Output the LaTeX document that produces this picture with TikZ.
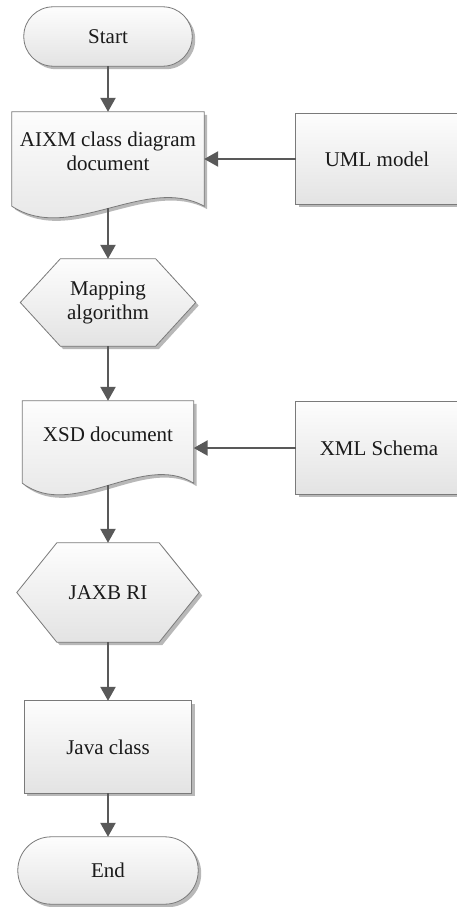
\documentclass[tikz,border=0pt]{standalone}
\usepackage{fontspec}
\setmainfont{Liberation Serif}
\usetikzlibrary{arrows.meta,shadows,backgrounds,calc}

\definecolor{edgegray}{HTML}{7A7A7A}
\definecolor{arrowgray}{HTML}{595959}
\definecolor{fillTop}{HTML}{FDFDFD}
\definecolor{fillBottom}{HTML}{E3E3E3}
\definecolor{inkcol}{HTML}{1A1A1A}

\begin{document}
\begin{tikzpicture}[x=1bp,y=-1bp,
  frame/.style={draw=none, inner sep=0pt, align=center, text=inkcol,
    font=\fontsize{21bp}{24bp}\selectfont},
  shapestyle/.style={draw=edgegray, line width=0.8bp,
    top color=fillTop, bottom color=fillBottom,
    drop shadow={shadow xshift=3bp, shadow yshift=-3bp, opacity=0.28, fill=black}},
  flow/.style={draw=arrowgray, line width=2.4bp,
    -{Triangle[width=15bp,length=14bp]}}
]
\useasboundingbox (0,0) rectangle (457,907);

% text frames of the flow steps
\node[frame, minimum width=168bp, minimum height=59bp] (start) at (108,36.5) {Start};
\node[frame, minimum width=192bp, minimum height=78bp] (aixm) at (108,151) {AIXM class diagram\\document};
\node[frame, minimum width=162bp, minimum height=90bp] (uml) at (377,159) {UML model};
\node[frame, minimum width=175bp, minimum height=87bp] (map) at (108,302.5) {Mapping\\algorithm};
\node[frame, minimum width=171bp, minimum height=66bp] (xsd) at (108,434) {XSD document};
\node[frame, minimum width=166bp, minimum height=92bp] (xml) at (379,448) {XML Schema};
\node[frame, minimum width=182bp, minimum height=99bp] (jaxb) at (108,592.5) {JAXB RI};
\node[frame, minimum width=167bp, minimum height=92bp] (java) at (108,747) {Java class};
\node[frame, minimum width=180bp, minimum height=67bp] (end) at (108,870.5) {End};

% outlines, behind the text
\begin{scope}[on background layer]
  \fill[white] (0,0) rectangle (457,907);
  % terminators
  \path[shapestyle, rounded corners=29.4bp] (start.north west) rectangle (start.south east);
  \path[shapestyle, rounded corners=33.4bp] (end.north west) rectangle (end.south east);
  % documents with wavy bottom
  \path[shapestyle] (aixm.north west) -- (aixm.north east) -- ($(aixm.south east)+(0,16)$)
    .. controls +(-58,-32) and +(58,38) .. ($(aixm.south west)+(0,16)$) -- cycle;
  \path[shapestyle] (xsd.north west) -- (xsd.north east) -- ($(xsd.south east)+(0,16)$)
    .. controls +(-51,-32) and +(51,38) .. ($(xsd.south west)+(0,16)$) -- cycle;
  % processes
  \path[shapestyle] (uml.north west) rectangle (uml.south east);
  \path[shapestyle] (xml.north west) rectangle (xml.south east);
  \path[shapestyle] (java.north west) rectangle (java.south east);
  % preparation hexagons
  \path[shapestyle] (map.west) -- ($(map.north west)+(40,0)$) -- ($(map.north east)+(-40,0)$)
    -- (map.east) -- ($(map.south east)+(-40,0)$) -- ($(map.south west)+(40,0)$) -- cycle;
  \path[shapestyle] (jaxb.west) -- ($(jaxb.north west)+(40,0)$) -- ($(jaxb.north east)+(-40,0)$)
    -- (jaxb.east) -- ($(jaxb.south east)+(-40,0)$) -- ($(jaxb.south west)+(40,0)$) -- cycle;
\end{scope}

% connectors
\draw[flow] (start.south) -- (aixm.north);
\draw[flow] ($(aixm.south)+(0,18)$) -- (map.north);
\draw[flow] (map.south) -- (xsd.north);
\draw[flow] ($(xsd.south)+(0,18)$) -- (jaxb.north);
\draw[flow] (jaxb.south) -- (java.north);
\draw[flow] (java.south) -- (end.north);
\draw[flow] (uml.west) -- (uml.west -| aixm.east);
\draw[flow] (xml.west) -- (xml.west -| xsd.east);
\end{tikzpicture}
\end{document}
